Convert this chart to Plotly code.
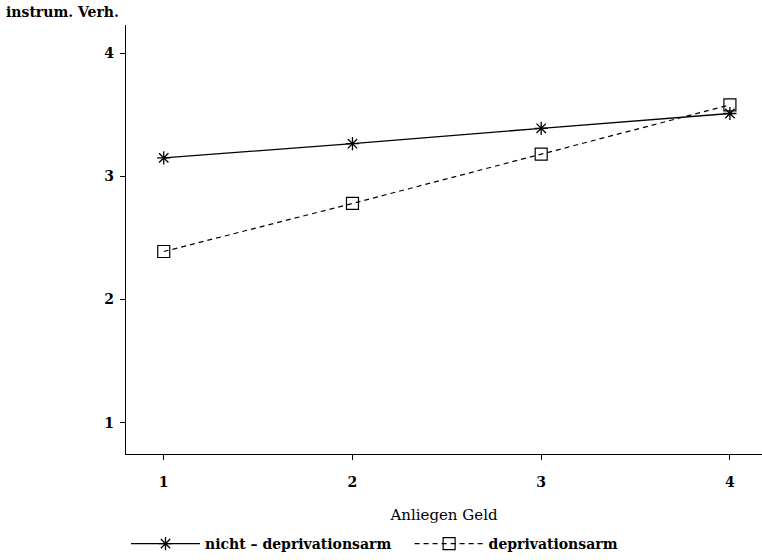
import plotly.graph_objects as go

x_vals = [1, 2, 3, 4]
nicht_depriv = [3.15, 3.265, 3.39, 3.51]
depriv = [2.39, 2.78, 3.18, 3.58]
x_ticks = [1, 2, 3, 4]
y_ticks = [1, 2, 3, 4]

serif = "DejaVu Serif"

fig = go.Figure()
fig.add_trace(go.Scatter(
    x=x_vals, y=nicht_depriv, mode="lines+markers",
    name="<b>nicht – deprivationsarm</b>&nbsp;&nbsp;&nbsp;",
    line=dict(color="black", width=1.3),
    marker=dict(symbol="asterisk-open", size=11, color="black", line=dict(width=1.3, color="black")),
))
fig.add_trace(go.Scatter(
    x=x_vals, y=depriv, mode="lines+markers",
    name="<b>deprivationsarm</b>",
    line=dict(color="black", width=1.2, dash="5px,4px"),
    marker=dict(symbol="square-open", size=12, color="black", line=dict(width=1.2, color="black")),
))

fig.update_layout(
    width=762, height=560,
    margin=dict(l=126, r=0, t=25, b=105),
    plot_bgcolor="white", paper_bgcolor="white",
    font=dict(family=serif, color="black", size=14),
    showlegend=True,
    legend=dict(orientation="h", x=0.0, xanchor="left", y=-0.21, yanchor="middle",
                font=dict(family=serif, size=14, color="black"), itemwidth=69,
                bgcolor="rgba(0,0,0,0)"),
    xaxis=dict(range=[0.8, 4.17], tickvals=x_ticks, ticktext=[f"<b>{v}</b>" for v in x_ticks],
               showgrid=False, zeroline=False, showline=True, linecolor="black", linewidth=1.2,
               ticks="outside", ticklen=5, tickcolor="black", ticklabelstandoff=10,
               tickfont=dict(family=serif, size=14),
               title=dict(text="Anliegen Geld", font=dict(family=serif, size=15), standoff=20)),
    yaxis=dict(range=[0.747, 4.228], tickvals=y_ticks, ticktext=[f"<b>{v}</b>" for v in y_ticks],
               showgrid=False, zeroline=False, showline=True, linecolor="black", linewidth=1.2,
               ticks="outside", ticklen=5, tickcolor="black", ticklabelstandoff=3,
               tickfont=dict(family=serif, size=14)),
    annotations=[dict(text="<b>instrum. Verh.</b>", xref="paper", yref="paper",
                      x=-126/636 + 4/636, y=1 + 13/430, xanchor="left", yanchor="middle",
                      showarrow=False, font=dict(family=serif, size=14, color="black"))],
)

fig.write_html("out.html")
